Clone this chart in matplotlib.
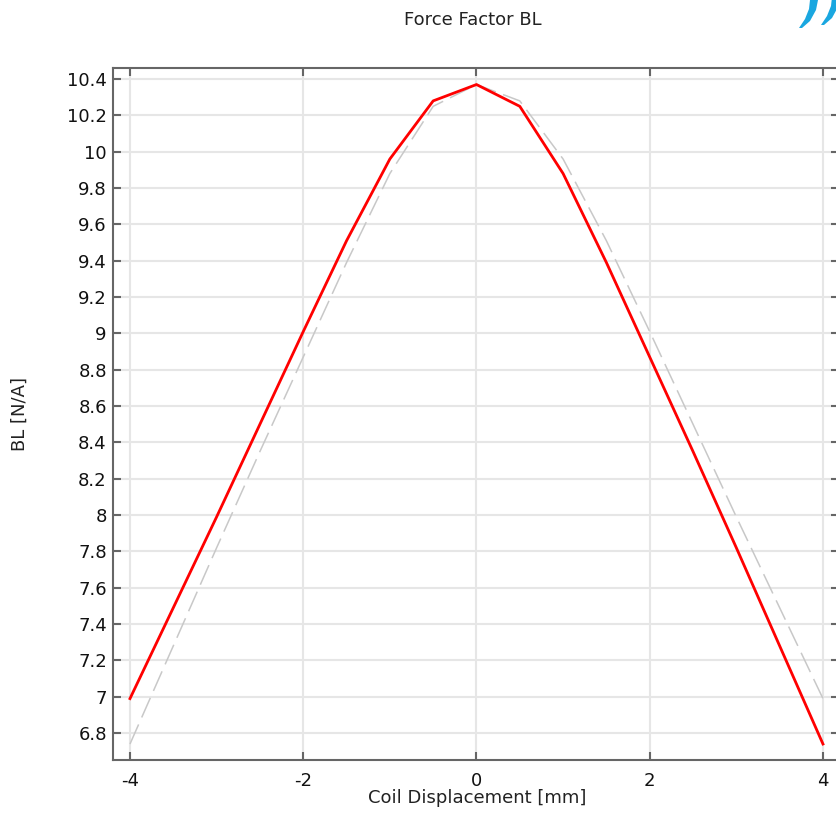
import matplotlib
matplotlib.use("Agg")
import matplotlib.pyplot as plt
from matplotlib.patches import Polygon

# Coil displacement [mm]
displacement = [-4, -3.5, -3, -2.5, -2, -1.5, -1, -0.5, 0, 0.5, 1, 1.5, 2, 2.5, 3, 3.5, 4]
# Force factor BL [N/A] for the current design
bl_values = [6.99, 7.49, 7.99, 8.50, 9.01, 9.51, 9.96, 10.28, 10.37, 10.25, 9.88, 9.39,
             8.87, 8.35, 7.82, 7.28, 6.74]
# Mirrored curve (symmetric reference)
bl_mirror = bl_values[::-1]

x_ticks = [-4, -2, 0, 2, 4]
y_ticks = [6.8, 7.0, 7.2, 7.4, 7.6, 7.8, 8.0, 8.2, 8.4, 8.6, 8.8, 9.0, 9.2, 9.4, 9.6,
           9.8, 10.0, 10.2, 10.4]
y_tick_labels = ["6.8", "7", "7.2", "7.4", "7.6", "7.8", "8", "8.2", "8.4", "8.6", "8.8",
                 "9", "9.2", "9.4", "9.6", "9.8", "10", "10.2", "10.4"]

W, H = 836, 814
fig = plt.figure(figsize=(W / 100, H / 100), dpi=100)
ax = fig.add_axes([113 / W, 1 - 760 / H, (839 - 113) / W, (760 - 68) / H])

ax.plot(displacement, bl_mirror, color="#c8c8c8", lw=1.1, dashes=(14, 5), zorder=2)
ax.plot(displacement, bl_values, color="#ff0000", lw=2.0, zorder=3)

ax.set_xlim(-4.196, 4.185)
ax.set_ylim(6.652, 10.461)
ax.set_xticks(x_ticks)
ax.set_xticklabels([str(v) for v in x_ticks])
ax.set_yticks(y_ticks)
ax.set_yticklabels(y_tick_labels)

ax.grid(True, color="#e6e6e6", lw=1.5, zorder=0)
ax.set_axisbelow(True)

for s in ax.spines.values():
    s.set_color("#666666")
    s.set_linewidth(1.5)

ax.tick_params(axis="both", direction="in", length=6, width=1.5, color="#666666",
               labelsize=13, labelcolor="#111111", top=True, right=True)
ax.tick_params(axis="x", pad=9)
ax.tick_params(axis="y", pad=4.5)

fig.text(477 / W, 1 - 798 / H, "Coil Displacement [mm]", ha="center", va="center",
         fontsize=13, color="#222222")
fig.text(20 / W, 1 - 414 / H, "BL [N/A]", ha="center", va="center", rotation=90,
         fontsize=13, color="#222222")
fig.text(473 / W, 1 - 20 / H, "Force Factor BL", ha="center", va="center",
         fontsize=13, color="#222222")

# Logo strokes in the top-right corner
logo_color = "#1aa7e0"
for dx in (0, 22):
    pts = [(799, 28), (805, 19), (809, 9), (810, 0), (818, 0), (816, 10), (810, 21), (802, 28)]
    pts = [((px + dx) / W, 1 - (py - (3 if dx else 0)) / H) for px, py in pts]
    fig.patches.append(Polygon(pts, closed=True, transform=fig.transFigure,
                               facecolor=logo_color, edgecolor="none"))

fig.savefig("out.png", dpi=100)
